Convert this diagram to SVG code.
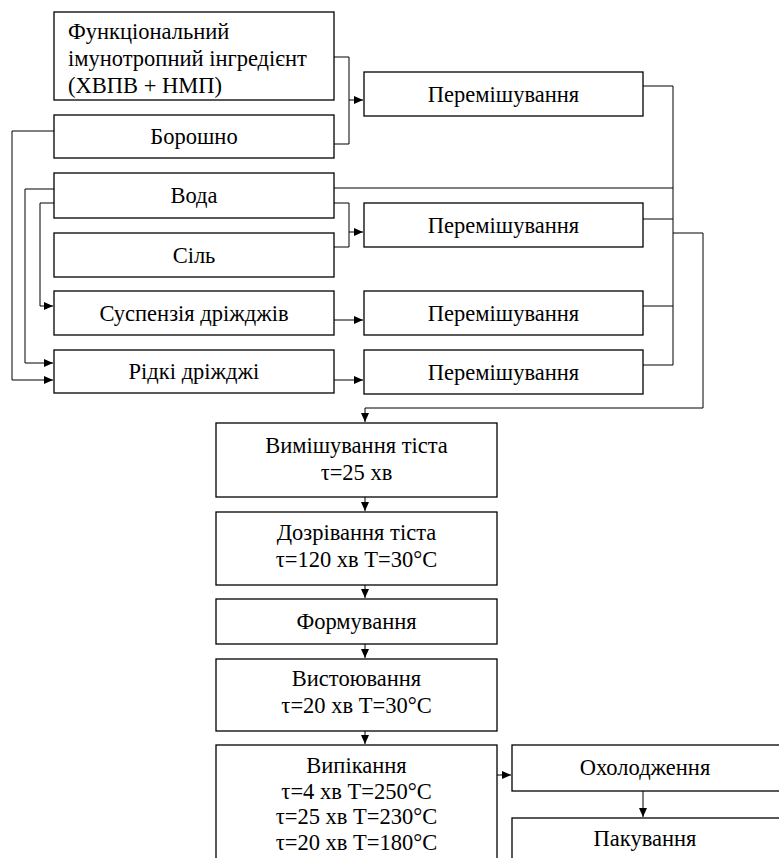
<svg xmlns="http://www.w3.org/2000/svg" width="779" height="858" viewBox="0 0 779 858">
<style>
.b{fill:#fff;stroke:#000;stroke-width:1.3}
text{font-family:"Liberation Serif","Times New Roman",serif;font-size:22.5px;fill:#000}
.t{text-anchor:middle}
.c{fill:none;stroke:#000;stroke-width:1}
</style>
<defs>
<marker id="ar" markerWidth="10" markerHeight="8" refX="9" refY="4" orient="auto" markerUnits="userSpaceOnUse">
<path d="M0,0 L9,4 L0,8 Z" fill="#000"/>
</marker>
</defs>
<rect width="779" height="858" fill="#fff"/>
<g id="connectors">
<path class="c" d="M334,57 H349 V144 H334"/>
<path class="c" d="M349,100 H363" marker-end="url(#ar)"/>
<path class="c" d="M54,131 H12 V380 H53" marker-end="url(#ar)"/>
<path class="c" d="M54,189 H25 V363 H53" marker-end="url(#ar)"/>
<path class="c" d="M54,203 H40 V306 H53" marker-end="url(#ar)"/>
<path class="c" d="M334,188 H673"/>
<path class="c" d="M334,203 H349 V247 H334"/>
<path class="c" d="M349,232 H363" marker-end="url(#ar)"/>
<path class="c" d="M334,320 H363" marker-end="url(#ar)"/>
<path class="c" d="M334,380 H363" marker-end="url(#ar)"/>
<path class="c" d="M643,86 H673 V365 H643"/>
<path class="c" d="M643,219 H673"/>
<path class="c" d="M643,306 H673"/>
<path class="c" d="M673,233 H703 V408 H365 V422" marker-end="url(#ar)"/>
<path class="c" d="M365,497 V511" marker-end="url(#ar)"/>
<path class="c" d="M365,585 V598" marker-end="url(#ar)"/>
<path class="c" d="M365,644 V658" marker-end="url(#ar)"/>
<path class="c" d="M365,731 V744" marker-end="url(#ar)"/>
<path class="c" d="M497,775 H511" marker-end="url(#ar)"/>
<path class="c" d="M643,791 V817" marker-end="url(#ar)"/>
</g>
<g id="n-ingredient"><rect class="b" x="54" y="12" width="280" height="88"/>
<text x="68" y="39">Функціональний</text>
<text x="68" y="66">імунотропний інгредієнт</text>
<text x="68" y="93">(ХВПВ + НМП)</text></g>
<g id="n-boroshno"><rect class="b" x="54" y="115" width="280" height="43"/><text class="t" x="194" y="144">Борошно</text></g>
<g id="n-voda"><rect class="b" x="54" y="173" width="280" height="45"/><text class="t" x="194" y="203">Вода</text></g>
<g id="n-sil"><rect class="b" x="54" y="233" width="280" height="44"/><text class="t" x="194" y="263">Сіль</text></g>
<g id="n-suspenziia"><rect class="b" x="54" y="291" width="280" height="44"/><text class="t" x="194" y="321">Суспензія дріжджів</text></g>
<g id="n-ridki"><rect class="b" x="54" y="350" width="280" height="43"/><text class="t" x="194" y="379">Рідкі дріжджі</text></g>
<g id="n-mix1"><rect class="b" x="364" y="72" width="279" height="44"/><text class="t" x="503.5" y="101.5">Перемішування</text></g>
<g id="n-mix2"><rect class="b" x="364" y="203" width="279" height="44"/><text class="t" x="503.5" y="232.5">Перемішування</text></g>
<g id="n-mix3"><rect class="b" x="364" y="291" width="279" height="44"/><text class="t" x="503.5" y="320.5">Перемішування</text></g>
<g id="n-mix4"><rect class="b" x="364" y="350" width="279" height="44"/><text class="t" x="503.5" y="379.5">Перемішування</text></g>
<g id="n-vymishuvannia"><rect class="b" x="216" y="423" width="281" height="74"/>
<text class="t" x="356.5" y="453">Вимішування тіста</text><text class="t" x="356.5" y="480">τ=25 хв</text></g>
<g id="n-dozrivannia"><rect class="b" x="216" y="512" width="281" height="73"/>
<text class="t" x="356.5" y="540">Дозрівання тіста</text><text class="t" x="356.5" y="567">τ=120 хв Т=30°С</text></g>
<g id="n-formuvannia"><rect class="b" x="216" y="599" width="281" height="45"/><text class="t" x="356.5" y="629">Формування</text></g>
<g id="n-vystoiuvannia"><rect class="b" x="216" y="659" width="281" height="72"/>
<text class="t" x="356.5" y="686">Вистоювання</text><text class="t" x="356.5" y="713">τ=20 хв Т=30°С</text></g>
<g id="n-vypikannia"><rect class="b" x="216" y="745" width="281" height="125"/>
<text class="t" x="356.5" y="773">Випікання</text><text class="t" x="356.5" y="798.5">τ=4 хв Т=250°С</text>
<text class="t" x="356.5" y="824">τ=25 хв Т=230°С</text><text class="t" x="356.5" y="849.5">τ=20 хв Т=180°С</text></g>
<g id="n-okholodzhennia"><rect class="b" x="512" y="745" width="270" height="46"/><text class="t" x="645" y="775">Охолодження</text></g>
<g id="n-pakuvannia"><rect class="b" x="512" y="818" width="270" height="60"/><text class="t" x="645" y="846">Пакування</text></g>
</svg>
